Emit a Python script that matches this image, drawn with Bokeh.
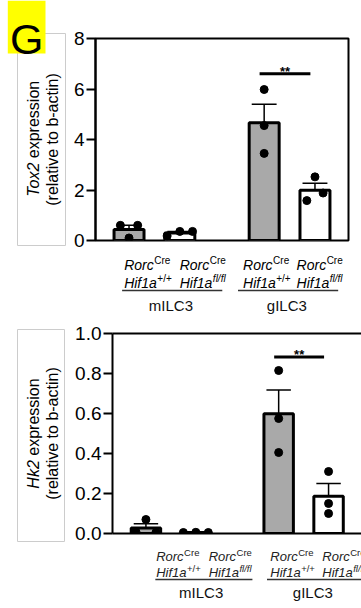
import math
import numpy as np
from bokeh.plotting import figure
from bokeh.models import Range1d, Label, FixedTicker, LinearAxis, NumeralTickFormatter, ColumnDataSource
from bokeh.layouts import column, row
from bokeh.embed import file_html
from bokeh.resources import INLINE

# ---------------- data ----------------
group_names = ["mILC3", "gILC3"]
groups = ["mILC3", "mILC3", "gILC3", "gILC3"]
driver = ["Rorc", "Rorc", "Rorc", "Rorc"]
driver_sup = ["Cre", "Cre", "Cre", "Cre"]
allele = ["Hif1a", "Hif1a", "Hif1a", "Hif1a"]
allele_sup = ["+/+", "fl/fl", "+/+", "fl/fl"]

# individual mice (left, middle, right dot)
tox2_points = [
    [0.60, 0.10, 0.60],
    [0.18, 0.36, 0.36],
    [5.98, 4.55, 3.45],
    [1.58, 2.52, 1.88],
]
hk2_points = [
    [0.008, 0.070, 0.005],
    [0.005, 0.006, 0.005],
    [0.815, 0.575, 0.405],
    [0.310, 0.150, 0.100],
]
tox2_ticks = [0, 2, 4, 6, 8]
hk2_ticks = [0.0, 0.2, 0.4, 0.6, 0.8, 1.0]
tox2_sig = 6.6
hk2_sig = 0.883
sig_label = "**"
panel_letter = "G"
gene_names = ["Tox2", "Hk2"]
ylabel_rest = "expression"
ylabel_line2 = "(relative to b-actin)"

# ---------------- style / layout (page pixels) ----------------
FONT = "Liberation Sans"
PAGE_X0 = 0
PAGE_X1 = 361
GAP = 0.66
BAR_W = 0.59
CAP = 0.245
SIG_SHIFT = -0.09
GRAY = "#a9a9a9"

W = {' ': .278, '(': .333, ')': .333, '-': .333, '/': .278, '+': .584, '.': .278,
     'a': .556, 'b': .556, 'c': .5, 'e': .556, 'f': .278, 'i': .222, 'k': .5, 'l': .222,
     'n': .556, 'o': .556, 'p': .556, 'r': .333, 's': .5, 't': .278, 'v': .5, 'x': .5,
     'm': .833, 'C': .722, 'G': .778, 'H': .722, 'I': .278, 'L': .556, 'R': .722, 'T': .611}


def tw(s, size):
    return sum(W.get(c, .556) for c in s) * size


TOP = dict(fig_top=0, fig_bot=318, split_x=66, main_bot=251,
           fl=95, fr=348, ft=38, fb=240, x0=-0.66, x1=4.32,
           fmt="0", tick_font="19px", jitter=[0.17, 0.25, 0.0, 0.16],
           lab_left=[-25, -13, -22, -12], base1=24, base2=42, sup_raise=4.2,
           main_font=14, sup_font=10, lab_color="black",
           under_below=50, under_l=-31.5, under_r=34.5, grp_below=65, grp_font=15,
           box=(17, 65, 33, 245), yl1_x=33.3, yl2_x=51.7, yl_font=16, outline=True)
BOT = dict(fig_top=318, fig_bot=608, split_x=65, main_bot=544,
           fl=112, fr=361, ft=333, fb=533, x0=-0.67, x1=4.32,
           fmt="0.0", tick_font="19px", jitter=[0.2, 0.25, 0.0, 0.0],
           lab_left=[-24, -13.5, -21.5, -11.5], base1=22.5, base2=38.5, sup_raise=3.6,
           main_font=13, sup_font=9.5, lab_color="#222222",
           under_below=46, under_l=-29.5, under_r=36, grp_below=59, grp_font=15,
           box=(17, 64, 329, 541), yl1_x=33.3, yl2_x=51.7, yl_font=16, outline=False)


def add_text(p, x, y, text, size, dx=0.0, dy=0.0, align="left", baseline="alphabetic",
             style="normal", color="black", angle=0.0):
    p.add_layout(Label(x=x, y=y, x_offset=dx, y_offset=dy, text=text, text_font=FONT,
                       text_font_size=f"{size}px", text_font_style=style, text_color=color,
                       text_align=align, text_baseline=baseline, angle=angle))


def blank_fig(w, h, xr, yr):
    p = figure(width=w, height=h, x_range=xr, y_range=yr, output_backend="svg",
               toolbar_location=None, x_axis_location=None, y_axis_location=None,
               min_border=0, min_border_left=0, min_border_right=0, min_border_top=0,
               min_border_bottom=0, background_fill_color="white", border_fill_color="white",
               outline_line_color=None)
    p.xgrid.visible = False
    p.ygrid.visible = False
    return p


def build(points, ticks, sig_y, gene, g, letter=None):
    y_max = ticks[-1]
    gi = [group_names.index(gr) for gr in groups]
    pos = [i + GAP * gi[i] for i in range(len(groups))]
    ux = (g["fr"] - g["fl"]) / (g["x1"] - g["x0"])

    # ---------- main plot ----------
    mw = PAGE_X1 - g["split_x"]
    mh = g["main_bot"] - g["fig_top"]
    p = figure(width=mw, height=mh, output_backend="svg", toolbar_location=None,
               x_range=Range1d(g["x0"], g["x1"]), y_range=Range1d(0, y_max),
               x_axis_location=None,
               min_border_left=g["fl"] - g["split_x"],
               min_border_right=PAGE_X1 - g["fr"],
               min_border_top=g["ft"] - g["fig_top"],
               min_border_bottom=g["main_bot"] - g["fb"],
               background_fill_color="white", border_fill_color="white")
    p.xgrid.visible = False
    p.ygrid.visible = False
    if g["outline"]:
        p.outline_line_color = "black"
        p.outline_line_width = 2
    else:
        p.outline_line_color = None
        for loc in ("below", "above"):
            ax = LinearAxis(ticker=FixedTicker(ticks=[]), axis_line_width=2,
                            axis_line_color="black", major_tick_line_color=None,
                            minor_tick_line_color=None, major_tick_out=0, major_tick_in=0,
                            major_label_standoff=0, major_label_text_font_size="0px")
            p.add_layout(ax, loc)

    ya = p.yaxis[0]
    ya.ticker = FixedTicker(ticks=ticks)
    ya.formatter = NumeralTickFormatter(format=g["fmt"])
    ya.axis_line_width = 2
    ya.axis_line_color = "black"
    ya.major_tick_line_width = 2
    ya.major_tick_out = 9
    ya.major_tick_in = 0
    ya.minor_tick_line_color = None
    ya.major_label_standoff = 2
    ya.major_label_text_font = FONT
    ya.major_label_text_font_size = g["tick_font"]
    ya.major_label_text_color = "black"

    means = [float(np.mean(v)) for v in points]
    sems = [float(np.std(v, ddof=1) / math.sqrt(len(v))) for v in points]
    tops = [m + s for m, s in zip(means, sems)]
    fills = [GRAY if a == "+/+" else "white" for a in allele_sup]

    src = ColumnDataSource(dict(x=pos, top=means, up=tops, fill=fills,
                                cl=[x - CAP for x in pos], cr=[x + CAP for x in pos]))
    p.vbar(x="x", top="top", bottom=0, width=BAR_W, fill_color="fill", line_color="black",
           line_width=3, source=src)
    p.segment(x0="x", y0="top", x1="x", y1="up", line_color="black", line_width=1.5, source=src)
    p.segment(x0="cl", y0="up", x1="cr", y1="up", line_color="black", line_width=1.5, source=src)

    xs, ys = [], []
    for i, vals in enumerate(points):
        j = g["jitter"][i]
        for k, v in enumerate(vals):
            xs.append(pos[i] + j * (k - 1))
            ys.append(v)
    p.scatter(xs, ys, size=8, color="black")

    p.segment(x0=[pos[2] + SIG_SHIFT], y0=[sig_y], x1=[pos[3] + SIG_SHIFT], y1=[sig_y],
              line_color="black", line_width=3)
    add_text(p, (pos[2] + pos[3]) / 2 + SIG_SHIFT, sig_y, sig_label, 13, dy=2,
             align="center", style="bold")

    # ---------- category label strip (y = pixels below the x axis, negative) ----------
    lw = mw
    lh = g["fig_bot"] - g["main_bot"]
    lx0 = g["x0"] - (g["fl"] - g["split_x"]) / ux
    lx1 = g["x1"] + (PAGE_X1 - g["fr"]) / ux
    lab = blank_fig(lw, lh, Range1d(lx0, lx1),
                    Range1d(-(g["fig_bot"] - g["fb"]), -(g["main_bot"] - g["fb"])))
    mf, sf, col = g["main_font"], g["sup_font"], g["lab_color"]
    for i in range(len(groups)):
        left = g["lab_left"][i]
        add_text(lab, pos[i], -g["base1"], driver[i], mf, dx=left, style="italic", color=col)
        add_text(lab, pos[i], -g["base1"], driver_sup[i], sf, dx=left + tw(driver[i], mf) + 0.5,
                 dy=g["sup_raise"], color=col)
        add_text(lab, pos[i], -g["base2"], allele[i], mf, dx=left, style="italic", color=col)
        add_text(lab, pos[i], -g["base2"], allele_sup[i], sf, dx=left + tw(allele[i], mf) + 0.5,
                 dy=g["sup_raise"], style="italic" if "fl" in allele_sup[i] else "normal",
                 color=col)
    for gname in group_names:
        idx = [i for i, gr in enumerate(groups) if gr == gname]
        xa = pos[idx[0]] + g["under_l"] / ux
        xb = pos[idx[-1]] + g["under_r"] / ux
        lab.segment(x0=[xa], x1=[xb], y0=[-g["under_below"]], y1=[-g["under_below"]],
                    line_color="#333333", line_width=1.3)
        add_text(lab, (pos[idx[0]] + pos[idx[-1]]) / 2, -g["grp_below"], gname, g["grp_font"],
                 align="center", baseline="middle", color="#111111")

    # ---------- y-label strip (coordinates: page pixels, y negated) ----------
    sw = g["split_x"] - PAGE_X0
    sh = g["fig_bot"] - g["fig_top"]
    side = blank_fig(sw, sh, Range1d(PAGE_X0, g["split_x"]), Range1d(-g["fig_bot"], -g["fig_top"]))
    bl, br, bt, bb = g["box"]
    side.quad(left=[bl], right=[br], top=[-bt], bottom=[-bb], fill_color=None,
              line_color="#cccccc", line_width=1)
    mid = -(g["ft"] + g["fb"]) / 2
    add_text(side, g["yl2_x"], mid, ylabel_line2, g["yl_font"], align="center",
             baseline="middle", angle=math.pi / 2)
    fs = g["yl_font"]
    L = tw(gene, fs) + tw(" ", fs) + tw(ylabel_rest, fs)
    junction = -L / 2 + tw(gene, fs)
    add_text(side, g["yl1_x"], mid, gene, fs, dy=junction, align="right",
             baseline="middle", style="italic", angle=math.pi / 2)
    add_text(side, g["yl1_x"], mid, ylabel_rest, fs, dy=junction + tw(" ", fs), align="left",
             baseline="middle", angle=math.pi / 2)
    if letter:
        side.quad(left=[7.3], right=[45], top=[0], bottom=[-53], fill_color="#ffff00",
                  line_color=None)
        add_text(side, 26.2, -38.3, letter, 43, align="center")

    return row(side, column(p, lab))


top = build(tox2_points, tox2_ticks, tox2_sig, gene_names[0], TOP, letter=panel_letter)
bottom = build(hk2_points, hk2_ticks, hk2_sig, gene_names[1], BOT)

layout = column(top, bottom)
open("out.html", "w").write(file_html(layout, INLINE, "Tox2 / Hk2 expression"))
